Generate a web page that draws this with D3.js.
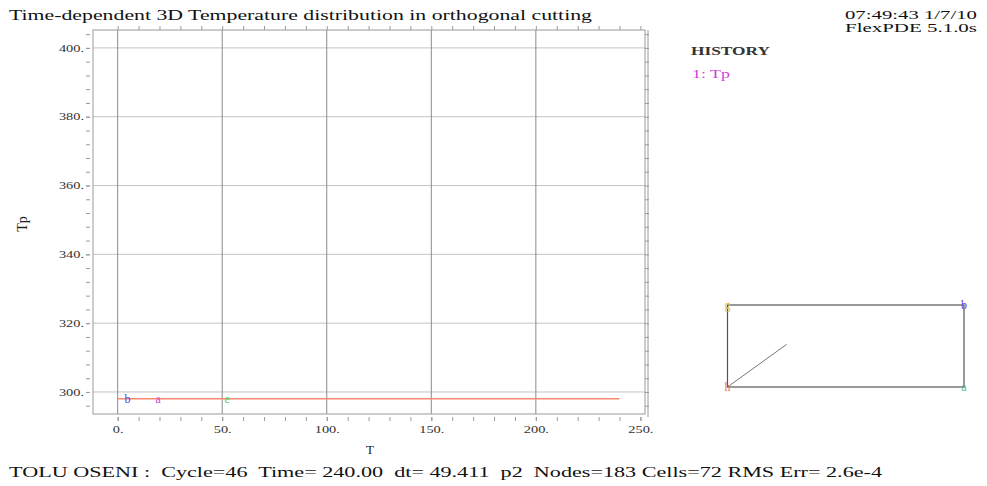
<!DOCTYPE html>
<html><head><meta charset="utf-8">
<script src="https://cdn.jsdelivr.net/npm/d3@7"></script>
<style>body{margin:0;background:#fff;}svg{display:block;} text{white-space:pre;}</style>
</head><body>
<script>
// ---- data ----
const title = "Time-dependent 3D Temperature distribution in orthogonal cutting";
const stamp = ["07:49:43 1/7/10", "FlexPDE 5.1.0s"];
const footer = "TOLU OSENI :  Cycle=46  Time= 240.00  dt= 49.411  p2  Nodes=183 Cells=72 RMS Err= 2.6e-4";
const historyT = [0, 4.7, 19.4, 52.4, 100, 150, 200, 240];
const historyTp = [298, 298, 298, 298, 298, 298, 298, 298];
const markLetters = ["b", "a", "e"];
const markT = [4.7, 19.4, 52.4];
const markTp = [298, 298, 298];
const xTicks = [0, 50, 100, 150, 200, 250];
const yTicks = [300, 320, 340, 360, 380, 400];
const xTickLabels = ["0.", "50.", "100.", "150.", "200.", "250."];
const yTickLabels = ["300.", "320.", "340.", "360.", "380.", "400."];
const legendItems = ["1: Tp"];
// inset viewport box (normalised corners)
const boxCorners = [{k:"g",x:0,y:1},{k:"b",x:1,y:1},{k:"h",x:0,y:0},{k:"a",x:1,y:0}];
const boxDiag = [[0,0],[0.25,0.52]];

const W = 987, H = 486;
const svg = d3.select("body").append("svg").attr("width", W).attr("height", H);
const serif = "'Liberation Serif','Times New Roman',serif";
function labelLen(s){ let w=0; for(const c of s) w += (c===".")?3.5:7.2; return w; }

const x = d3.scaleLinear().domain([-11.8, 252.2]).range([93, 645]);
const y = d3.scaleLinear().domain([293.6, 405.2]).range([414, 30]);

// grid
svg.append("g").selectAll("line").data(yTicks).join("line")
  .attr("x1", 93).attr("x2", 645).attr("y1", d => y(d)).attr("y2", d => y(d))
  .attr("stroke", "#c4c4c4").attr("stroke-width", 1);
svg.append("g").selectAll("line").data(xTicks.filter(d => d < 250)).join("line")
  .attr("y1", 30).attr("y2", 414).attr("x1", d => x(d)).attr("x2", d => x(d))
  .attr("stroke", "#8a8a8a").attr("stroke-width", 1);

// frame
svg.append("rect").attr("x", 93).attr("y", 30).attr("width", 552).attr("height", 384)
  .attr("fill", "none").attr("stroke", "#9a9a9a").attr("stroke-width", 1);

// axes
const minorX = d3.range(0, 251, 10);
const minorY = d3.range(296, 405, 4);
const xAx = d3.axisBottom(x).tickValues(xTicks).tickFormat((d,i) => xTickLabels[i]).tickSize(4).tickPadding(5);
const xMinor = d3.axisBottom(x).tickValues(minorX).tickFormat("").tickSize(4);
const xTop = d3.axisTop(x).tickValues(minorX).tickFormat("").tickSize(4);
const yAx = d3.axisLeft(y).tickValues(yTicks).tickFormat((d,i) => yTickLabels[i]).tickSize(4).tickPadding(2);
const yMinor = d3.axisLeft(y).tickValues(minorY).tickFormat("").tickSize(4);
const yRight = d3.axisRight(y).tickValues(minorY).tickFormat("").tickSize(4);
function style(g){ g.select(".domain").remove(); g.selectAll("line").attr("stroke","#9a9a9a");
  g.selectAll("text").attr("font-family", serif).attr("font-size", 10).attr("fill","#333")
   .attr("textLength", function(){ return labelLen(this.textContent); })
   .attr("lengthAdjust","spacingAndGlyphs"); }
svg.append("g").attr("transform","translate(0,417)").call(xMinor).call(style);
svg.append("g").attr("transform","translate(0,417)").call(xAx).call(style);
svg.append("g").attr("transform","translate(0,30)").call(xTop).call(style);
svg.append("g").attr("transform","translate(90,0)").call(yMinor).call(style);
svg.append("g").attr("transform","translate(90,0)").call(yAx).call(style);
svg.append("g").attr("transform","translate(645,0)").call(yRight).call(style);
svg.append("line").attr("x1",648).attr("x2",648).attr("y1",30).attr("y2",417).attr("stroke","#9a9a9a");

// series
const line = d3.line().x((d,i) => x(historyT[i])).y(d => y(d));
svg.append("path").datum(historyTp).attr("d", line).attr("fill","none")
  .attr("stroke","#f4896f").attr("stroke-width",1.5);
const markColors = ["#5a3cf0", "#e040e0", "#5ad070"];
svg.append("g").selectAll("text").data(markLetters).join("text")
  .attr("x",(d,i)=>x(markT[i])).attr("y",(d,i)=>y(markTp[i])+4)
  .attr("text-anchor","middle").attr("font-family",serif).attr("font-size",12)
  .attr("fill",(d,i)=>markColors[i]).text(d=>d);

// axis titles
svg.append("text").attr("x",370).attr("y",454).attr("text-anchor","middle")
  .attr("font-family",serif).attr("font-size",13).attr("fill","#222").text("T");
svg.append("text").attr("transform","translate(27,224) rotate(-90)").attr("text-anchor","middle")
  .attr("font-family",serif).attr("font-size",14).attr("fill","#222").text("Tp");

// title and stamps
svg.append("text").attr("x",9).attr("y",20).attr("font-family",serif).attr("font-size",15)
  .attr("fill","#111").attr("textLength",583).attr("lengthAdjust","spacingAndGlyphs").text(title);
svg.append("g").selectAll("text").data(stamp).join("text")
  .attr("x",845).attr("y",(d,i)=>19+i*13)
  .attr("font-family",serif).attr("font-size",12).attr("fill","#111")
  .attr("textLength",132).attr("lengthAdjust","spacingAndGlyphs").text(d=>d);
svg.append("text").attr("x",691).attr("y",55).attr("font-family",serif).attr("font-size",11.5)
  .attr("font-weight","bold").attr("fill","#333")
  .attr("textLength",79).attr("lengthAdjust","spacingAndGlyphs").text("HISTORY");
svg.append("g").selectAll("text").data(legendItems).join("text")
  .attr("x",692).attr("y",78).attr("font-family",serif).attr("font-size",12)
  .attr("fill","#d040d8").attr("textLength",38).attr("lengthAdjust","spacingAndGlyphs").text(d=>d);

// footer
svg.append("text").attr("x",9).attr("y",477).attr("font-family",serif).attr("font-size",15)
  .attr("fill","#111").attr("textLength",873).attr("lengthAdjust","spacingAndGlyphs").text(footer);

// inset box
const bx = d3.scaleLinear().domain([0,1]).range([727.5,964]);
const by = d3.scaleLinear().domain([0,1]).range([387,305]);
svg.append("rect").attr("x",bx(0)).attr("y",by(1)).attr("width",bx(1)-bx(0)).attr("height",by(0)-by(1))
  .attr("fill","none").attr("stroke","#555").attr("stroke-width",1.2);
svg.append("path").datum(boxDiag).attr("d",d3.line().x(d=>bx(d[0])).y(d=>by(d[1])))
  .attr("stroke","#777").attr("fill","none");
const cornerColors = {g:"#e0b840", b:"#6040e0", h:"#f07050", a:"#40c0a0"};
svg.append("g").selectAll("text").data(boxCorners).join("text")
  .attr("x",d=>bx(d.x)).attr("y",d=>by(d.y)+4).attr("text-anchor","middle")
  .attr("font-family",serif).attr("font-size",12).attr("fill",d=>cornerColors[d.k]).text(d=>d.k);
</script>
</body></html>
